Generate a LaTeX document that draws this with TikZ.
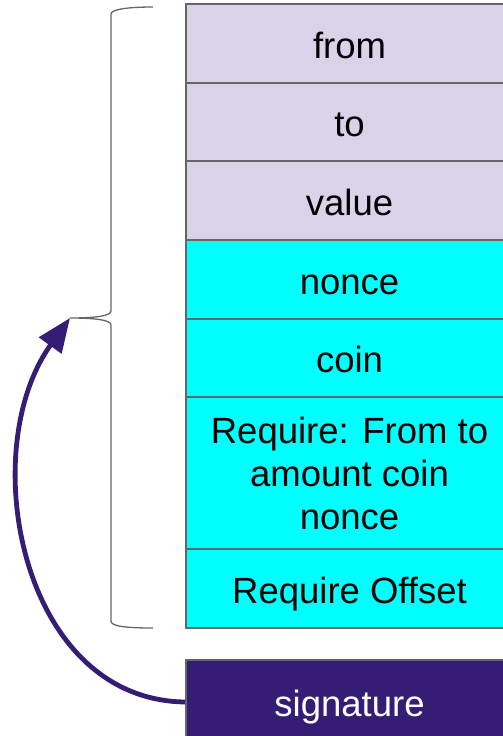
\documentclass[tikz,border=0pt]{standalone}
\usepackage{fontspec}
\setmainfont{Liberation Sans}
\usetikzlibrary{arrows.meta}
\definecolor{lav}{HTML}{D9D2E9}
\definecolor{cyn}{HTML}{00FFFF}
\definecolor{sigc}{HTML}{351C75}
\definecolor{bord}{HTML}{666666}
\tikzset{
  row/.style={draw=bord, line width=1.6pt, minimum width=327pt, inner sep=0pt, align=center,
    font=\fontsize{36.5pt}{43pt}\selectfont, text=black},
  oneline/.style={text height=29pt, text depth=0pt},
  lavrow/.style={row, oneline, fill=lav},
  cynrow/.style={row, fill=cyn},
  sigrow/.style={row, oneline, fill=sigc, text=white},
  bracepath/.style={draw=bord, line width=1.3pt},
  sigarrow/.style={draw=sigc, line width=4.8pt, -{Triangle[length=34pt,width=27pt]}}
}
\begin{document}
\begin{tikzpicture}[x=1pt,y=-1pt]
\useasboundingbox (0,0) rectangle (503,736);
\node[lavrow, minimum height=79pt] (from) at (349.5,43.5) {from};
\node[lavrow, minimum height=78pt] (to) at (349.5,122) {to};
\node[lavrow, minimum height=79pt] (value) at (349.5,200.5) {value};
\node[cynrow, oneline, minimum height=79pt] (nonce) at (349.5,279.5) {nonce};
\node[cynrow, oneline, minimum height=78pt] (coin) at (349.5,358) {coin};
\node[cynrow, minimum height=152pt] (req) at (349.5,473) {Require: From to\\amount coin\\nonce};
\node[cynrow, oneline, minimum height=79pt] (off) at (349.5,588.5) {Require Offset};
\node[sigrow, minimum height=84pt] (sig) at (349.5,702) {signature};
\coordinate (bt) at (70,318);
\path[bracepath] (153,7) .. controls (124,7) and (111,10) .. (111,14) -- (111,311)
  .. controls (111,316) and (95,318) .. (bt)
  .. controls (95,318) and (111,320) .. (111,325) -- (111,621)
  .. controls (111,626) and (124,628) .. (153,628);
\draw[sigarrow] (sig.west) .. controls (20,700) and (-25,450) .. (bt);
\end{tikzpicture}
\end{document}
